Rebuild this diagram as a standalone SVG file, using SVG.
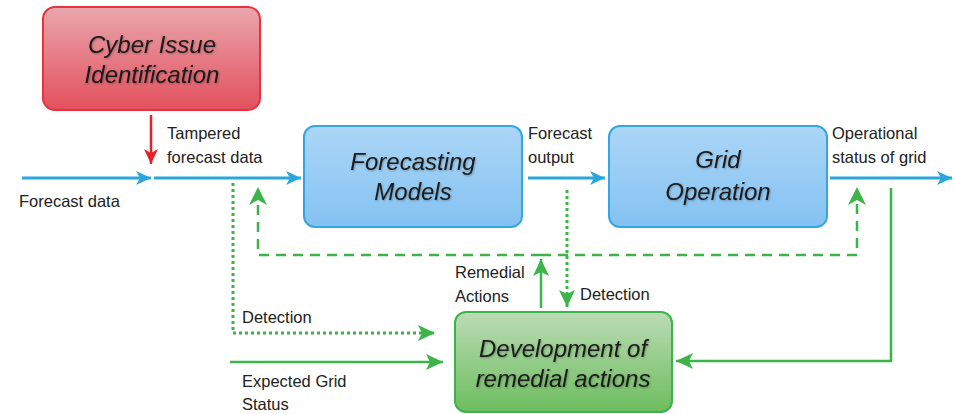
<svg xmlns="http://www.w3.org/2000/svg" width="955" height="414" viewBox="0 0 955 414">
<defs>
<linearGradient id="gRed" x1="0" y1="0" x2="0" y2="1"><stop offset="0" stop-color="#eaa6ad"/><stop offset="1" stop-color="#e2505d"/></linearGradient>
<linearGradient id="gBlue" x1="0" y1="0" x2="0" y2="1"><stop offset="0" stop-color="#acd6f7"/><stop offset="1" stop-color="#84c2f2"/></linearGradient>
<linearGradient id="gGreen" x1="0" y1="0" x2="0" y2="1"><stop offset="0" stop-color="#bcdcb4"/><stop offset="1" stop-color="#6cbd5e"/></linearGradient>
<filter id="ts" x="-10%" y="-20%" width="120%" height="150%"><feDropShadow dx="0.8" dy="1" stdDeviation="0.8" flood-color="#000" flood-opacity="0.3"/></filter>
<marker id="aBlue" markerUnits="userSpaceOnUse" markerWidth="16" markerHeight="16" viewBox="0 0 16 16" refX="15" refY="8" orient="auto"><path d="M0,1 L15,8 L0,15 L4,8 Z" fill="#2aa6df"/></marker>
<marker id="aRed" markerUnits="userSpaceOnUse" markerWidth="16" markerHeight="16" viewBox="0 0 16 16" refX="15" refY="8" orient="auto"><path d="M0,1 L15,8 L0,15 L4,8 Z" fill="#e8202a"/></marker>
<marker id="aGreen" markerUnits="userSpaceOnUse" markerWidth="18" markerHeight="18" viewBox="0 0 18 18" refX="17" refY="9" orient="auto"><path d="M0,1 L17,9 L0,17 L4,9 Z" fill="#3cb44a"/></marker>
</defs>
<style>
.box{stroke-width:2}
.bt{font-family:"Liberation Sans",Arial,sans-serif;font-style:italic;font-size:24px;fill:#1a1a1a;text-anchor:middle;filter:url(#ts)}
.lb{font-family:"Liberation Sans",Arial,sans-serif;font-size:16.5px;fill:#222}
.blue{stroke:#2aa6df;stroke-width:3;fill:none}
.green{stroke:#3cb44a;stroke-width:2.5;fill:none}
.dash{stroke-dasharray:10 7}
.dot{stroke-dasharray:3 3;stroke-width:3}
</style>
<g id="cyber">
<rect class="box" x="43" y="7" width="217" height="103" rx="12" fill="url(#gRed)" stroke="#e8323e"/>
<text class="bt" x="152" y="53">Cyber Issue</text>
<text class="bt" x="152" y="83">Identification</text>
</g>
<g id="forecasting">
<rect class="box" x="304" y="126" width="218" height="101" rx="11" fill="url(#gBlue)" stroke="#35a6e2"/>
<text class="bt" x="413" y="170">Forecasting</text>
<text class="bt" x="413" y="200">Models</text>
</g>
<g id="grid">
<rect class="box" x="609" y="126" width="218" height="101" rx="11" fill="url(#gBlue)" stroke="#35a6e2"/>
<text class="bt" x="718" y="168">Grid</text>
<text class="bt" x="718" y="200">Operation</text>
</g>
<g id="remedial">
<rect class="box" x="455" y="312" width="217" height="100" rx="11" fill="url(#gGreen)" stroke="#3cb44a"/>
<text class="bt" x="563" y="357">Development of</text>
<text class="bt" x="563" y="387">remedial actions</text>
</g>
<g id="connectors">
<line class="blue" x1="22" y1="178" x2="151" y2="178" marker-end="url(#aBlue)"/>
<line class="blue" x1="154" y1="178" x2="301" y2="178" marker-end="url(#aBlue)"/>
<line class="blue" x1="528" y1="178" x2="605" y2="178" marker-end="url(#aBlue)"/>
<line class="blue" x1="830" y1="178" x2="952" y2="178" marker-end="url(#aBlue)"/>
<line x1="151" y1="115" x2="151" y2="164" stroke="#e8202a" stroke-width="2.5" marker-end="url(#aRed)"/>
<polyline class="green dash" points="541,255 258,255 258,190"/>
<polyline class="green dash" points="541,255 857,255 857,190"/>
<path d="M249,205 L258,187 L267,205 L258,200 Z" fill="#3cb44a"/>
<path d="M848,205 L857,187 L866,205 L857,200 Z" fill="#3cb44a"/>
<polyline class="green dot" points="233,183 233,333 435,333" marker-end="url(#aGreen)"/>
<line class="green dot" x1="567" y1="190" x2="567" y2="307" marker-end="url(#aGreen)"/>
<line class="green" x1="541" y1="308" x2="541" y2="259" marker-end="url(#aGreen)"/>
<line class="green" x1="230" y1="362" x2="443" y2="362" marker-end="url(#aGreen)"/>
<polyline class="green" points="891,188 891,361 676,361" marker-end="url(#aGreen)"/>
</g>
<g id="labels">
<text class="lb" x="167" y="139">Tampered</text>
<text class="lb" x="167" y="163">forecast data</text>
<text class="lb" x="19" y="207">Forecast data</text>
<text class="lb" x="528" y="139">Forecast</text>
<text class="lb" x="528" y="163">output</text>
<text class="lb" x="832" y="139">Operational</text>
<text class="lb" x="832" y="163">status of grid</text>
<text class="lb" x="455" y="278">Remedial</text>
<text class="lb" x="455" y="302">Actions</text>
<text class="lb" x="580" y="300">Detection</text>
<text class="lb" x="242" y="323">Detection</text>
<text class="lb" x="242" y="387">Expected Grid</text>
<text class="lb" x="242" y="410">Status</text>
</g>
</svg>
